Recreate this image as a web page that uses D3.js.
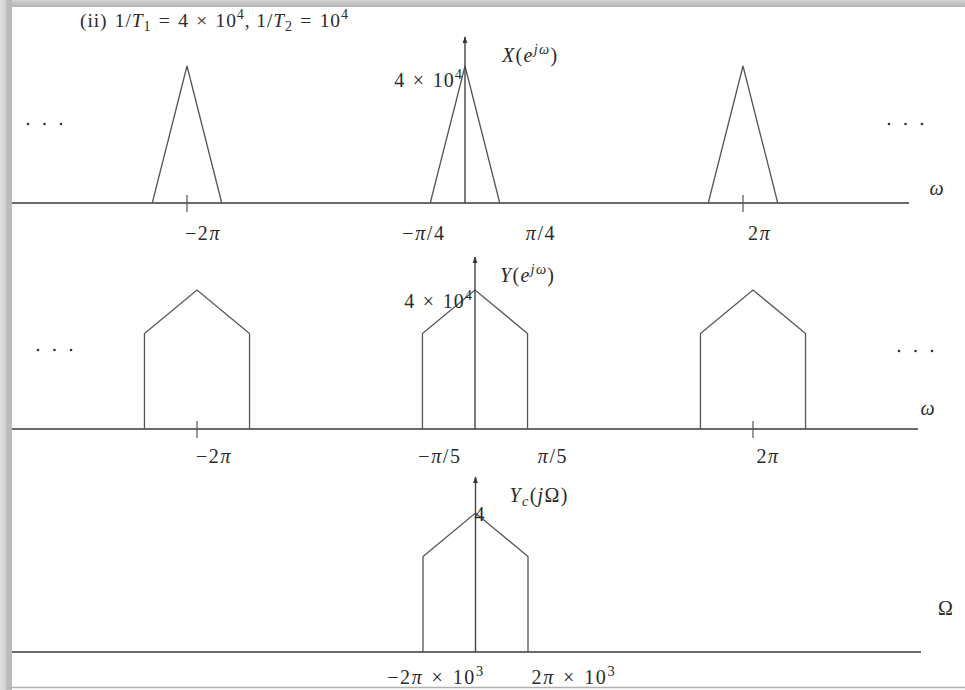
<!DOCTYPE html>
<html>
<head>
<meta charset="utf-8">
<script src="https://cdn.jsdelivr.net/npm/d3@7"></script>
<style>
  html, body { margin: 0; padding: 0; background: #fff; }
  svg { display: block; }
  text { font-family: "Liberation Serif", "DejaVu Serif", serif; fill: #2a2a2a; }
</style>
</head>
<body>
<svg id="fig" width="965" height="690"></svg>
<script>
// ---- data (frequencies in units of π, or π×10³ for Ω) ----
const periodicCopies = [-2, 0, 2];                 // spectral replicas at k·2π
const omegaTicks = [-2, 2];                        // ticks drawn on the ω axes

// X(e^{jω}): triangle of height 4×10⁴ spanning ±π/4
const xSpectrum = [[-0.25, 0], [0, 4e4], [0.25, 0]];
const xPeakLabel = 4e4;
const xTickLabels = ["−2π", "−π/4", "π/4", "2π"];
const xTickLabelAt = [-1.885, -0.295, 0.547, 2.12];

// Y(e^{jω}): flat-sided shape, shoulders 2.75×10⁴, peak 4×10⁴
const ySpectrum = [[-0.378, 0], [-0.378, 2.75e4], [0, 4e4], [0.378, 2.75e4], [0.378, 0]];
const yPeakLabel = 4e4;
const yTickLabels = ["−2π", "−π/5", "π/5", "2π"];
const yTickLabelAt = [-1.878, -0.252, 0.561, 2.108];

// Y_c(jΩ): band-limited to ±2π×10³, shoulders 2.75, peak 4
const ycSpectrum = [[-2, 0], [-2, 2.75], [0, 4], [2, 2.75], [2, 0]];
const ycPeakLabel = 4;
const ycTickLabels = ["−2π × 10³", "2π × 10³"];
const ycTickLabelAt = [-1.505, 3.75];

// ---- drawing ----
const svg = d3.select("#fig");
const SP = "\u2004";   // operator spacing, math style

// frame
const defs = svg.append("defs");
const gTop = defs.append("linearGradient").attr("id", "topbar").attr("x1", 0).attr("x2", 0).attr("y1", 0).attr("y2", 1);
gTop.append("stop").attr("offset", "0%").attr("stop-color", "#d2d2d2");
gTop.append("stop").attr("offset", "100%").attr("stop-color", "#b4b4b4");
const gLeft = defs.append("linearGradient").attr("id", "leftbar").attr("x1", 0).attr("x2", 1).attr("y1", 0).attr("y2", 0);
gLeft.append("stop").attr("offset", "0%").attr("stop-color", "#dedede");
gLeft.append("stop").attr("offset", "45%").attr("stop-color", "#d4d4d4");
gLeft.append("stop").attr("offset", "55%").attr("stop-color", "#bdbdbd");
gLeft.append("stop").attr("offset", "100%").attr("stop-color", "#b9b9b9");
svg.append("rect").attr("x", 0).attr("y", 0).attr("width", 965).attr("height", 7).attr("fill", "url(#topbar)");
svg.append("rect").attr("x", 0).attr("y", 0).attr("width", 12).attr("height", 690).attr("fill", "url(#leftbar)");
svg.append("line").attr("x1", 12).attr("x2", 965).attr("y1", 687.5).attr("y2", 687.5)
  .attr("stroke", "#b0b0b0").attr("stroke-width", 1.5);

// arrow marker for the vertical axes
defs.append("marker").attr("id", "arrow").attr("viewBox", "0 0 10 10")
  .attr("refX", 9).attr("refY", 5).attr("markerWidth", 7).attr("markerHeight", 7)
  .attr("markerUnits", "userSpaceOnUse").attr("orient", "auto")
  .append("path").attr("d", "M0,1.5 L10,5 L0,8.5 Z").attr("fill", "#333");

// renders a run of math segments: [text, style] with style in {"", "i", "sup", "supi", "sub", "subi"}
function mathText(g, x, y, parts, size, anchor, spacing) {
  const t = g.append("text").attr("x", x).attr("y", y)
    .attr("font-size", size).attr("text-anchor", anchor || "middle")
    .attr("letter-spacing", spacing == null ? 1 : spacing);
  let shift = 0;
  parts.forEach(([s, st]) => {
    const sp = t.append("tspan").text(s);
    let want = 0;
    if (st.startsWith("sup")) { want = -0.42 * size; sp.attr("font-size", size * 0.72); }
    else if (st.startsWith("sub")) { want = 0.22 * size; sp.attr("font-size", size * 0.72); }
    if (st.endsWith("i")) sp.attr("font-style", "italic");
    if (want !== shift) { sp.attr("dy", want - shift); shift = want; }
  });
  return t;
}

function panel(cfg) {
  const g = svg.append("g");
  const x = d3.scaleLinear().domain([-2, 2]).range(cfg.xRange);
  const y = d3.scaleLinear().domain([0, cfg.peak]).range([cfg.axisY, cfg.peakY]);

  // horizontal axis
  g.append("line").attr("x1", 12).attr("x2", cfg.axisEnd)
    .attr("y1", cfg.axisY).attr("y2", cfg.axisY)
    .attr("stroke", "#6a6a6a").attr("stroke-width", 2);

  // spectral shapes
  const line = d3.line().x(d => x(d[0])).y(d => y(d[1]));
  g.selectAll("path.shape").data(cfg.copies).join("path")
    .attr("class", "shape")
    .attr("d", k => line(cfg.shape.map(p => [p[0] + k, p[1]])))
    .attr("fill", "none").attr("stroke", "#555").attr("stroke-width", 1.3);

  // vertical axis with arrow
  g.append("line").attr("x1", x(0)).attr("x2", x(0))
    .attr("y1", cfg.axisY).attr("y2", cfg.arrowTop)
    .attr("stroke", "#444").attr("stroke-width", 1.4).attr("marker-end", "url(#arrow)");

  // ticks at ±2π
  g.selectAll("line.tick").data(cfg.ticks).join("line")
    .attr("class", "tick")
    .attr("x1", d => x(d)).attr("x2", d => x(d))
    .attr("y1", cfg.axisY - 8).attr("y2", cfg.axisY + 9)
    .attr("stroke", "#555").attr("stroke-width", 1.2);

  // tick labels
  cfg.tickLabels.forEach((lab, i) => mathText(g, x(cfg.tickLabelAt[i]), cfg.axisY + cfg.labelDy, lab, 20, "middle", 1.6));

  // peak value label
  mathText(g, x(0) + cfg.peakLabelDx, y(cfg.peakLabel) + cfg.peakLabelDy, cfg.peakLabelParts, 20, "end");

  // function name
  mathText(g, x(0) + cfg.nameDx, cfg.nameY, cfg.name, 20, "start", 1.3);

  // axis variable
  mathText(g, cfg.varX, cfg.varY, cfg.varParts, 20, "middle");

  // continuation dots
  if (cfg.dots) {
    cfg.dots.forEach(([cx, cy]) => {
      [0, 16.5, 33].forEach(dx => g.append("circle").attr("cx", cx + dx).attr("cy", cy).attr("r", 1.3).attr("fill", "#333"));
    });
  }
}

// title
mathText(svg, 80, 27, [["(ii)" + SP + "1/", ""], ["T", "i"], ["1", "sub"], [SP + "=" + SP + "4" + SP + "×" + SP + "10", ""], ["4", "sup"],
  [", 1/", ""], ["T", "i"], ["2", "sub"], [SP + "=" + SP + "10", ""], ["4", "sup"]], 19.5, "start", 0.9);

const omegaLab = s => {
  // split a label like "−π/4" so that π is italic; "10³" gets a raised exponent
  return s.replace(/ × /g, SP + "×" + SP).split(/(π)/).filter(p => p).map(p => [p, p === "π" ? "i" : ""]).flatMap(p => {
    const m = p[0].match(/^(.*?)10³$/);
    return m ? [[m[1] + "10", ""], ["3", "sup"]] : [p];
  });
};

const peak4e4 = [["4" + SP + "×" + SP + "10", ""], ["4", "sup"]];

panel({
  xRange: [187, 743], axisY: 203, axisEnd: 909, peak: 4e4, peakY: 66, arrowTop: 37,
  copies: periodicCopies, shape: xSpectrum, ticks: omegaTicks,
  tickLabels: xTickLabels.map(omegaLab), tickLabelAt: xTickLabelAt, labelDy: 37,
  peakLabel: xPeakLabel, peakLabelParts: peak4e4, peakLabelDx: -2, peakLabelDy: 21,
  name: [["X", "i"], ["(", ""], ["e", "i"], ["jω", "supi"], [")", ""]], nameDx: 37, nameY: 62,
  varParts: [["ω", "i"]], varX: 937, varY: 195,
  dots: [[28, 124], [889, 124]]
});

panel({
  xRange: [197, 753], axisY: 429, axisEnd: 918, peak: 4e4, peakY: 290, arrowTop: 257,
  copies: periodicCopies, shape: ySpectrum, ticks: omegaTicks,
  tickLabels: yTickLabels.map(omegaLab), tickLabelAt: yTickLabelAt, labelDy: 34,
  peakLabel: yPeakLabel, peakLabelParts: peak4e4, peakLabelDx: -2, peakLabelDy: 18,
  name: [["Y", "i"], ["(", ""], ["e", "i"], ["jω", "supi"], [")", ""]], nameDx: 25, nameY: 282,
  varParts: [["ω", "i"]], varX: 928, varY: 415,
  dots: [[38, 350], [899, 351]]
});

panel({
  xRange: [423, 528], axisY: 652, axisEnd: 921, peak: 4, peakY: 513, arrowTop: 477,
  copies: [0], shape: ycSpectrum, ticks: [],
  tickLabels: ycTickLabels.map(omegaLab), tickLabelAt: ycTickLabelAt, labelDy: 32,
  peakLabel: ycPeakLabel, peakLabelParts: [["4", ""]], peakLabelDx: 10, peakLabelDy: 8,
  name: [["Y", "i"], ["c", "subi"], ["(", ""], ["j", "i"], ["Ω", ""], [")", ""]], nameDx: 34, nameY: 502,
  varParts: [["Ω", ""]], varX: 946, varY: 615,
  dots: null
});
</script>
</body>
</html>
